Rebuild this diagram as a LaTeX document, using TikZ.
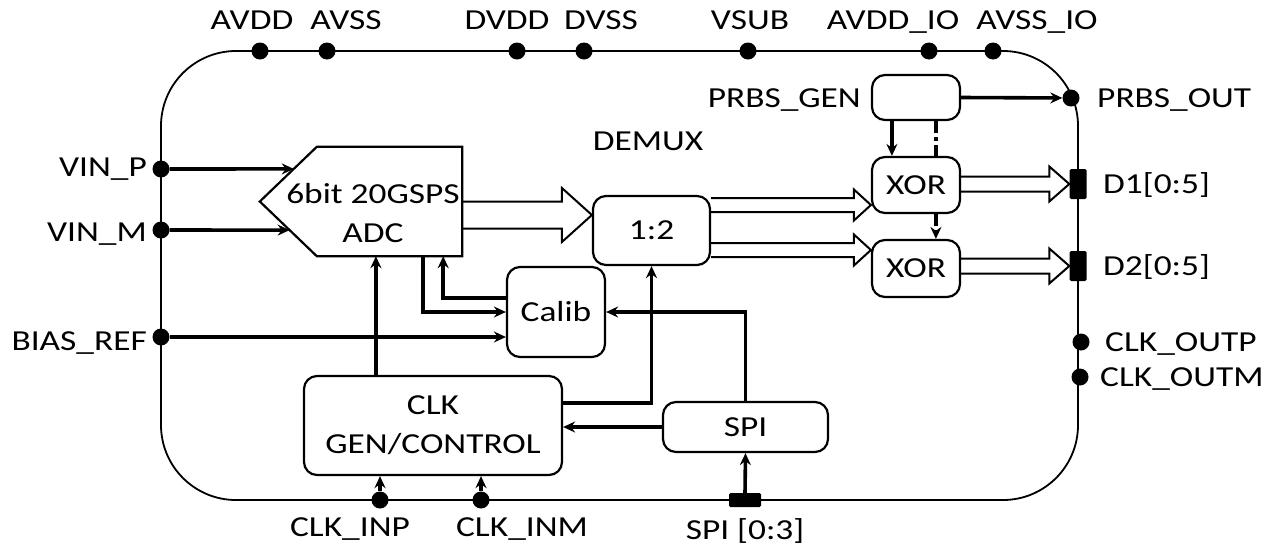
\documentclass[tikz,border=0pt]{standalone}
\usepackage{fontspec}
\setmainfont{Carlito}[FakeStretch=1.22]
\usetikzlibrary{arrows.meta,calc}
\newcommand{\widearr}[5]{\draw[wide] ($(#1)+(0,-#3)$) -- ($(#2)+(-#5,-#3)$) -- ($(#2)+(-#5,-#4)$) -- (#2) -- ($(#2)+(-#5,#4)$) -- ($(#2)+(-#5,#3)$) -- ($(#1)+(0,#3)$);}
\begin{document}
\begin{tikzpicture}[x=1pt,y=-1pt,
 every node/.style={font=\fontsize{29}{39}\selectfont, inner sep=0pt},
 chip/.style={line width=1.8pt},
 blk/.style={draw, rounded corners=13pt, line width=2.2pt, align=center},
 conn/.style={line width=3.6pt, -{Stealth[length=12pt,width=11pt,inset=4pt]}},
 plain/.style={line width=3.6pt},
 dashdot/.style={dash pattern=on 12pt off 4pt on 4pt off 4pt},
 wide/.style={line width=2pt, line join=miter},
 pindot/.style={circle, fill=black, minimum size=17pt},
 pinbar/.style={fill=black, rounded corners=1.5pt},
 lbl/.style={text height=18.5pt, text depth=0pt}]
\useasboundingbox (0,0) rectangle (1273,547);
% chip outline
\draw[chip, rounded corners=75pt] (161,51) rectangle (1078,500);
% top pins
\foreach \n/\x in {avdd/260, avss/327, dvdd/517, dvss/584, vsub/748, avddio/929, avssio/993}
  \node[pindot] (\n) at (\x,51) {};
\node[lbl] at (252,20) {AVDD};
\node[lbl] at (346,20) {AVSS};
\node[lbl] at (507,20) {DVDD};
\node[lbl] at (601,20) {DVSS};
\node[lbl] at (750,20) {VSUB};
\node[lbl] at (893,20) {AVDD\_IO};
\node[lbl] at (1037,20) {AVSS\_IO};
% left pins
\node[pindot] (vinp) at (161,169) {};
\node[pindot] (vinm) at (161,230) {};
\node[pindot] (bias) at (161,337) {};
\node[lbl, anchor=east] at (147,167) {VIN\_P};
\node[lbl, anchor=east] at (147,232) {VIN\_M};
\node[lbl, anchor=east] at (147,341) {BIAS\_REF};
% right pins
\node[pindot] (prbsout) at (1071,98) {};
\node[pinbar, minimum width=17pt, minimum height=30pt] (d1) at (1078,184) {};
\node[pinbar, minimum width=17pt, minimum height=30pt] (d2) at (1078,266) {};
\node[pindot] (clkoutp) at (1081,342) {};
\node[pindot] (clkoutm) at (1080,377) {};
\node[lbl, anchor=west] at (1097,98) {PRBS\_OUT};
\node[lbl, anchor=west] at (1103,184) {D1[0:5]};
\node[lbl, anchor=west] at (1103,266) {D2[0:5]};
\node[lbl, anchor=west] at (1105,342) {CLK\_OUTP};
\node[lbl, anchor=west] at (1100,377) {CLK\_OUTM};
% bottom pins
\node[pindot] (clkinp) at (380,500) {};
\node[pindot] (clkinm) at (481,500) {};
\node[pinbar, minimum width=32pt, minimum height=14pt] (spipin) at (745,500) {};
\node[lbl] at (350,527) {CLK\_INP};
\node[lbl] at (522,527) {CLK\_INM};
\node[lbl] at (745,530) {SPI [0:3]};
% blocks
\node[blk, minimum width=88pt, minimum height=45pt] (prbs) at (916,97.5) {};
\node[lbl, anchor=east] at (861,98) {PRBS\_GEN};
\node[blk, minimum width=88pt, minimum height=56pt] (xor1) at (916,185) {XOR};
\node[blk, minimum width=88pt, minimum height=57pt] (xor2) at (916,268.5) {XOR};
\node[blk, minimum width=117pt, minimum height=69pt] (demux) at (651.5,230.5) {1:2};
\node[lbl] at (648,141) {DEMUX};
\node[blk, minimum width=98pt, minimum height=90pt] (calib) at (556,312) {Calib};
\node[blk, minimum width=258pt, minimum height=99pt] (clk) at (433,425.5) {CLK\\GEN/CONTROL};
\node[blk, minimum width=165pt, minimum height=50pt] (spi) at (745.5,427) {SPI};
% ADC
\node[minimum width=202pt, minimum height=109pt] (adc) at (361,201.5) {};
\coordinate (adcNW) at ($(adc.north west)+(57,0)$);
\coordinate (adcSW) at ($(adc.south west)+(57,0)$);
\draw[line width=2.2pt, line join=miter] (adc.west) -- (adcNW) -- (adc.north east) -- (adc.south east) -- (adcSW) -- cycle;
\node[align=center] at (373,213) {6bit 20GSPS\\ADC};
% connectors
\draw[conn] (vinp) -- ($(adc.west)!0.596!(adcNW)$);
\draw[conn] (vinm) -- ($(adc.west)!0.523!(adcSW)$);
\draw[conn] (bias) -- (bias -| calib.west);
\draw[conn] ($(adc.south east)+(-39,0)$) |- (calib.west);
\draw[conn] ($(calib.west)+(0,-14)$) -| ($(adc.south east)+(-19,0)$);
\draw[conn] ($(clk.north west)+(73,0)$) coordinate (c1) -- (c1 |- adc.south);
\draw[conn] ($(clk.east)+(0,-22.5)$) -| (demux.south);
\draw[conn] (spi.west) -- (spi.west -| clk.east);
\draw[conn] (spi.north) |- (calib.east);
\draw[conn] (spipin.north) -- (spi.south);
\draw[conn] (clkinp) -- (clkinp |- clk.south);
\draw[conn] (clkinm) -- (clkinm |- clk.south);
\draw[conn] (prbs.east) -- (prbsout);
\draw[conn] ($(prbs.south west)+(21,0)$) coordinate (p1) -- (p1 |- xor1.north);
\draw[plain, dashdot] ($(prbs.south west)+(65,0)$) coordinate (p2) -- (p2 |- xor1.north);
\draw[conn, dashdot] (p2 |- xor1.south) -- (p2 |- xor2.north);
% wide bus arrows
\coordinate (w1s) at ($(adc.east)+(0,13.5)$);
\coordinate (w1e) at (demux.west |- w1s);
\widearr{w1s}{w1e}{13.5}{27}{30}
\coordinate (w2s) at ($(demux.east)+(0,-25.5)$);
\coordinate (w2e) at (xor1.west |- w2s);
\widearr{w2s}{w2e}{7}{15.5}{17}
\coordinate (w3s) at ($(demux.east)+(0,19.5)$);
\coordinate (w3e) at (xor2.west |- w3s);
\widearr{w3s}{w3e}{7}{15.5}{17}
\coordinate (w4s) at (xor1.east |- d1);
\coordinate (w4e) at (d1.west);
\widearr{w4s}{w4e}{7.5}{17.5}{20}
\coordinate (w5s) at (xor2.east |- d2);
\coordinate (w5e) at (d2.west);
\widearr{w5s}{w5e}{7.5}{17.5}{20}
\end{tikzpicture}
\end{document}
